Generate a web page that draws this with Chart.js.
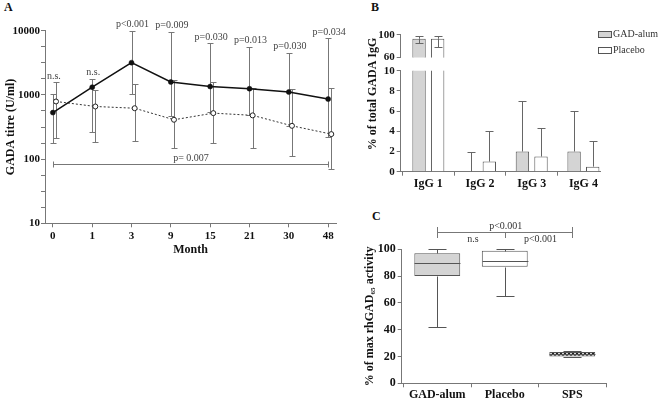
<!DOCTYPE html>
<html>
<head>
<meta charset="utf-8">
<script src="https://cdn.jsdelivr.net/npm/chart.js@4.4.0/dist/chart.umd.min.js"></script>
<style>
  body { margin: 0; background: #fff; width: 661px; height: 400px; overflow: hidden; position: relative; font-family: 'Liberation Serif', serif; }
  canvas { position: absolute; }
  .panel { position: absolute; font-weight: bold; font-size: 12px; line-height: 12px; color: #111; }
</style>
</head>
<body>
<div class="panel" style="left:4px;top:1px">A</div>
<div class="panel" style="left:371px;top:1px">B</div>
<div class="panel" style="left:372px;top:210px">C</div>
<canvas id="chartA" width="360" height="262" style="left:0;top:0"></canvas>
<canvas id="chartB2" width="301" height="192" style="left:360px;top:0"></canvas>
<canvas id="chartB1" width="301" height="66" style="left:360px;top:0"></canvas>
<canvas id="chartC" width="301" height="200" style="left:360px;top:200px"></canvas>
<script>
// --- panel A : GADA titre over time
const months = ['0', '1', '3', '9', '15', '21', '30', '48'];
const gadAlum = [530, 1320, 3180, 1590, 1350, 1250, 1110, 860];
const gadAlumLow = [177, 263, 1030, 470, 540, 480, 330, 224];
const gadAlumHigh = [1040, 1780, 10000, 9700, 6400, 5600, 4550, 7600];
const placebo = [790, 660, 620, 410, 520, 480, 330, 245];
const placeboLow = [211, 187, 190, 150, 177, 148, 112, 70];
const placeboHigh = [1580, 1200, 1470, 1700, 1610, 1300, 1230, 1300];
const pValuesA = ['n.s.', 'n.s.', 'p<0.001', 'p=0.009', 'p=0.030', 'p=0.013', 'p=0.030', 'p=0.034'];
const yDecadesA = [10, 100, 1000, 10000];
const overallA = { from: 0, to: 7, at: 84, label: 'p= 0.007' };

// --- panel B : IgG subclasses
const subclasses = ['IgG 1', 'IgG 2', 'IgG 3', 'IgG 4'];
const igGad = [93, 0, 2, 2];
const igGadHigh = [98.5, 2, 7, 6];
const igGadLow = [86, null, null, null];
const igPlacebo = [93, 1, 1.5, 0.5];
const igPlaceboHigh = [97.5, 4, 4.3, 3];
const igPlaceboLow = [78.5, null, null, null];
const upperTicksB = [60, 80, 100];

// --- panel C : rhGAD65 enzyme activity
const groupsC = ['GAD-alum', 'Placebo', 'SPS'];
const boxMin = [42, 65, 19.5];
const boxQ1 = [80, 87, 20];
const boxMedian = [90, 91.5, 22];
const boxQ3 = [97, 99, 23.3];
const boxMax = [100, 100, 24];
const bracketsC = [
  { from: 0, to: 2, label: 'p<0.001', above: true },
  { from: 0, to: 1, label: 'n.s', above: false },
  { from: 1, to: 2, label: 'p<0.001', above: false },
];

const SERIF = "'Liberation Serif', 'Times New Roman', serif";
Chart.defaults.font.family = SERIF;
Chart.defaults.color = '#111';
Chart.defaults.animation = false;

const axisLook = (len) => ({
  grid: { display: true, drawOnChartArea: false, drawTicks: true, tickLength: len, color: '#777' },
  border: { display: true, color: '#777', width: 1 },
});
const tickFont = (size) => ({ size: size, weight: 'bold' });

// error bars read from dataset.errLow / dataset.errHigh
function drawErrors(chart, opts) {
  const { ctx, chartArea: a } = chart;
  const ys = chart.scales.y;
  const half = (opts.cap || 6) / 2;
  ctx.save();
  ctx.beginPath();
  ctx.rect(a.left - 6, a.top - 2, a.right - a.left + 12, a.bottom - a.top + 4);
  ctx.clip();
  ctx.strokeStyle = opts.color || '#777';
  ctx.lineWidth = 1;
  chart.data.datasets.forEach((ds, di) => {
    const meta = chart.getDatasetMeta(di);
    meta.data.forEach((el, i) => {
      const x = Math.round(el.x) + 0.5;
      const y0 = ys.getPixelForValue(ds.data[i].y);
      [ds.errHigh ? ds.errHigh[i] : null, ds.errLow ? ds.errLow[i] : null].forEach((v) => {
        if (v == null) return;
        const y1 = Math.round(ys.getPixelForValue(v)) + 0.5;
        ctx.beginPath();
        ctx.moveTo(x, y0); ctx.lineTo(x, y1);
        ctx.moveTo(x - half, y1); ctx.lineTo(x + half, y1);
        ctx.stroke();
      });
    });
  });
  ctx.restore();
}
const errorBars = {
  id: 'errorBars',
  beforeDatasetsDraw(chart, args, opts) { if (opts.layer === 'back') drawErrors(chart, opts); },
  afterDatasetsDraw(chart, args, opts) { if (opts.layer !== 'back') drawErrors(chart, opts); },
};

// ---------- A
const annotA = {
  id: 'annotA',
  afterDatasetsDraw(chart) {
    const { ctx } = chart;
    const xs = chart.scales.x, ys = chart.scales.y;
    ctx.save();
    ctx.font = '10px ' + SERIF;
    ctx.fillStyle = '#444';
    ctx.textAlign = 'center';
    ctx.textBaseline = 'middle';
    pValuesA.forEach((t, i) => {
      const top = Math.min(ys.getPixelForValue(gadAlumHigh[i]), ys.getPixelForValue(placeboHigh[i]));
      ctx.fillText(t, xs.getPixelForValue(i) + 1, top - 6);
    });
    const by = Math.round(ys.getPixelForValue(overallA.at)) + 0.5;
    const x0 = Math.round(xs.getPixelForValue(overallA.from)) + 0.5;
    const x1 = Math.round(xs.getPixelForValue(overallA.to)) + 0.5;
    ctx.strokeStyle = '#777';
    ctx.lineWidth = 1;
    ctx.beginPath();
    ctx.moveTo(x0, by); ctx.lineTo(x1, by);
    ctx.moveTo(x0, by - 3); ctx.lineTo(x0, by + 3);
    ctx.moveTo(x1, by - 3); ctx.lineTo(x1, by + 3);
    ctx.stroke();
    ctx.fillText(overallA.label, (x0 + x1) / 2, by - 6);
    ctx.restore();
  },
};

new Chart(document.getElementById('chartA'), {
  type: 'line',
  data: {
    datasets: [
      {
        label: 'GAD-alum',
        data: months.map((m, i) => ({ x: i, y: gadAlum[i] })),
        errLow: gadAlumLow,
        errHigh: gadAlumHigh,
        borderColor: '#111',
        borderWidth: 1.5,
        pointRadius: 2.5,
        pointBackgroundColor: '#111',
        pointBorderColor: '#111',
        pointBorderWidth: 0.5,
      },
      {
        label: 'Placebo',
        data: months.map((m, i) => ({ x: i + 0.08, y: placebo[i] })),
        errLow: placeboLow,
        errHigh: placeboHigh,
        borderColor: '#333',
        borderWidth: 1,
        borderDash: [2, 2],
        pointRadius: 2.5,
        pointBackgroundColor: '#fff',
        pointBorderColor: '#222',
        pointBorderWidth: 1,
      },
    ],
  },
  options: {
    responsive: false,
    layout: { autoPadding: false, padding: { left: 0, right: 24, top: 30.7, bottom: 0 } },
    scales: {
      x: {
        type: 'linear',
        min: -0.2,
        max: 7.2,
        offset: false,
        ...axisLook(4),
        afterBuildTicks: (s) => { s.ticks = months.map((m, i) => ({ value: i })); },
        afterFit: (s) => { s.height = 38.7; },
        ticks: { autoSkip: false, maxRotation: 0, padding: 2, font: tickFont(11), callback: (v) => months[v] },
        title: { display: true, text: 'Month', font: { size: 12, weight: 'bold' }, padding: { top: 0, bottom: 5 } },
      },
      y: {
        type: 'logarithmic',
        min: 10,
        max: 10000,
        ...axisLook(4),
        afterBuildTicks: (s) => {
          const t = [];
          yDecadesA.forEach((d, k) => {
            t.push({ value: d });
            if (k < yDecadesA.length - 1) {
              [0.25, 0.5, 0.75].forEach((f) => t.push({ value: d * Math.pow(10, f) }));
            }
          });
          s.ticks = t;
        },
        afterFit: (s) => { s.width = 45; },
        ticks: { autoSkip: false, padding: 1, font: tickFont(11), callback: (v) => (yDecadesA.includes(v) ? String(v) : '') },
        title: { display: true, text: 'GADA titre (U/ml)', font: { size: 12, weight: 'bold' }, padding: { top: 3.5, bottom: 0 } },
      },
    },
    plugins: {
      legend: { display: false },
      tooltip: { enabled: false },
      errorBars: { layer: 'back', cap: 6, color: '#777' },
    },
  },
  plugins: [errorBars, annotA],
});

// ---------- B (broken axis: two stacked charts)
const barsB = () => [
  {
    label: 'GAD-alum',
    data: subclasses.map((s, i) => ({ x: i, y: igGad[i] })),
    errLow: igGadLow,
    errHigh: igGadHigh,
    backgroundColor: '#d4d4d4',
    borderColor: '#555',
    borderWidth: 1,
    categoryPercentage: 0.72,
    barPercentage: 0.72,
    clip: 0,
  },
  {
    label: 'Placebo',
    data: subclasses.map((s, i) => ({ x: i, y: igPlacebo[i] })),
    errLow: igPlaceboLow,
    errHigh: igPlaceboHigh,
    backgroundColor: '#ffffff',
    borderColor: '#555',
    borderWidth: 1,
    categoryPercentage: 0.72,
    barPercentage: 0.72,
    clip: 0,
  },
];

const legendB = {
  id: 'legendB',
  afterDraw(chart) {
    const { ctx } = chart;
    ctx.save();
    ctx.font = '10px ' + SERIF;
    ctx.textAlign = 'left';
    ctx.textBaseline = 'middle';
    chart.data.datasets.forEach((ds, i) => {
      const y = 31 + i * 16;
      ctx.fillStyle = ds.backgroundColor;
      ctx.fillRect(238.5, y + 0.5, 13, 6);
      ctx.strokeStyle = '#555';
      ctx.lineWidth = 1;
      ctx.strokeRect(238.5, y + 0.5, 13, 6);
      ctx.fillStyle = '#333';
      ctx.fillText(ds.label, 253, y + 3.5);
    });
    ctx.restore();
  },
};

const titleB = {
  id: 'titleB',
  afterDraw(chart) {
    const { ctx } = chart;
    ctx.save();
    ctx.translate(13, 94);
    ctx.rotate(-Math.PI / 2);
    ctx.font = 'bold 12px ' + SERIF;
    ctx.fillStyle = '#111';
    ctx.textAlign = 'center';
    ctx.textBaseline = 'middle';
    ctx.fillText('% of total GADA IgG', 0, 0);
    ctx.restore();
  },
};

const xB = (visible) => ({
  type: 'linear',
  display: visible,
  offset: false,
  min: -0.535,
  max: 3.335,
  ...axisLook(4),
  afterBuildTicks: (s) => { s.ticks = subclasses.map((c, i) => ({ value: i })); },
  afterFit: (s) => { s.height = visible ? 20.3 : 0; },
  ticks: { autoSkip: false, maxRotation: 0, padding: 1, font: tickFont(12), callback: (v) => subclasses[v] },
});

new Chart(document.getElementById('chartB2'), {
  type: 'bar',
  data: { datasets: barsB() },
  options: {
    responsive: false,
    layout: { autoPadding: false, padding: { left: 0, right: 60.3, top: 70.7, bottom: 0 } },
    scales: {
      x: xB(true),
      y: {
        min: 0,
        max: 10,
        ...axisLook(4),
        afterFit: (s) => { s.width = 40.7; },
        ticks: { stepSize: 2, padding: 2, font: tickFont(11) },
      },
    },
    plugins: {
      legend: { display: false },
      tooltip: { enabled: false },
      errorBars: { cap: 8, color: '#666' },
    },
  },
  plugins: [errorBars, titleB],
});

new Chart(document.getElementById('chartB1'), {
  type: 'bar',
  data: { datasets: barsB() },
  options: {
    responsive: false,
    layout: { autoPadding: false, padding: { left: 0, right: 60.3, top: 34.7, bottom: 6 } },
    scales: {
      x: xB(false),
      y: {
        min: 60,
        max: 100,
        ...axisLook(4),
        afterBuildTicks: (s) => { s.ticks = upperTicksB.map((v) => ({ value: v })); },
        afterFit: (s) => { s.width = 40.7; },
        ticks: { padding: 2, font: tickFont(11) },
      },
    },
    plugins: {
      legend: { display: false },
      tooltip: { enabled: false },
      errorBars: { cap: 8, color: '#666' },
    },
  },
  plugins: [errorBars, legendB],
});

// ---------- C box plots
const canvasC = document.getElementById('chartC');
const tile = document.createElement('canvas');
tile.width = 4; tile.height = 4;
const tctx = tile.getContext('2d');
tctx.fillStyle = '#d8d8d8'; tctx.fillRect(0, 0, 4, 4);
tctx.fillStyle = '#222'; tctx.fillRect(0, 0, 2, 2); tctx.fillRect(2, 2, 2, 2);
const spsPattern = canvasC.getContext('2d').createPattern(tile, 'repeat');

const boxParts = {
  id: 'boxParts',
  afterDatasetsDraw(chart) {
    const { ctx } = chart;
    const ys = chart.scales.y;
    const meta = chart.getDatasetMeta(0);
    ctx.save();
    ctx.strokeStyle = '#555';
    ctx.lineWidth = 1;
    meta.data.forEach((el, i) => {
      const x = Math.round(el.x) + 0.5;
      const w = el.width / 2;
      const cap = 9;
      const py = (v) => Math.round(ys.getPixelForValue(v)) + 0.5;
      ctx.beginPath();
      ctx.moveTo(x - w, py(boxMedian[i])); ctx.lineTo(x + w, py(boxMedian[i]));
      ctx.moveTo(x, py(boxQ3[i])); ctx.lineTo(x, py(boxMax[i]));
      ctx.moveTo(x - cap, py(boxMax[i])); ctx.lineTo(x + cap, py(boxMax[i]));
      ctx.moveTo(x, py(boxQ1[i])); ctx.lineTo(x, py(boxMin[i]));
      ctx.moveTo(x - cap, py(boxMin[i])); ctx.lineTo(x + cap, py(boxMin[i]));
      ctx.stroke();
    });
    ctx.restore();
  },
  afterDraw(chart) {
    const { ctx, chartArea: a } = chart;
    const xs = chart.scales.x;
    const ly = Math.round(a.top - 17) + 0.5;
    ctx.save();
    ctx.strokeStyle = '#777';
    ctx.lineWidth = 1;
    ctx.fillStyle = '#333';
    ctx.font = '10px ' + SERIF;
    ctx.textAlign = 'center';
    ctx.textBaseline = 'middle';
    const main = bracketsC[0];
    const x0 = Math.round(xs.getPixelForValue(main.from)) + 0.5;
    const x2 = Math.round(xs.getPixelForValue(main.to)) + 0.5;
    const x1 = Math.round(xs.getPixelForValue(1)) + 0.5;
    ctx.beginPath();
    ctx.moveTo(x0, ly); ctx.lineTo(x2, ly);
    ctx.moveTo(x0, ly - 5.5); ctx.lineTo(x0, ly + 5.5);
    ctx.moveTo(x2, ly - 5.5); ctx.lineTo(x2, ly + 5.5);
    ctx.moveTo(x1, ly); ctx.lineTo(x1, ly + 5.5);
    ctx.stroke();
    bracketsC.forEach((b) => {
      const cx = (xs.getPixelForValue(b.from) + xs.getPixelForValue(b.to)) / 2;
      ctx.fillText(b.label, cx + (b.above ? 1 : 2), b.above ? ly - 6.5 : ly + 7);
    });
    ctx.restore();
  },
};

new Chart(canvasC, {
  type: 'bar',
  data: {
    datasets: [{
      label: 'rhGAD65 activity',
      data: groupsC.map((g, i) => ({ x: i, y: [boxQ1[i], boxQ3[i]] })),
      backgroundColor: ['#d4d4d4', '#ffffff', spsPattern],
      borderColor: '#555',
      borderWidth: 1,
      borderSkipped: false,
      categoryPercentage: 1,
      barPercentage: 0.68,
    }],
  },
  options: {
    responsive: false,
    layout: { autoPadding: false, padding: { left: 0, right: 55, top: 49.3, bottom: 0 } },
    scales: {
      x: {
        type: 'linear',
        offset: false,
        min: -0.527,
        max: 2.5,
        ...axisLook(4),
        afterBuildTicks: (s) => { s.ticks = groupsC.map((g, i) => ({ value: i })); },
        afterFit: (s) => { s.height = 16.7; },
        ticks: { autoSkip: false, maxRotation: 0, padding: 0, font: tickFont(12), callback: (v) => groupsC[v] },
      },
      y: {
        min: 0,
        max: 100,
        ...axisLook(4),
        afterFit: (s) => { s.width = 41.7; },
        ticks: { stepSize: 20, padding: 2, font: tickFont(12) },
        title: { display: true, text: '% of max rhGAD₆₅ activity', font: { size: 12, weight: 'bold' }, padding: { top: 2.8, bottom: 0 } },
      },
    },
    plugins: {
      legend: { display: false },
      tooltip: { enabled: false },
    },
  },
  plugins: [boxParts],
});
</script>
</body>
</html>
